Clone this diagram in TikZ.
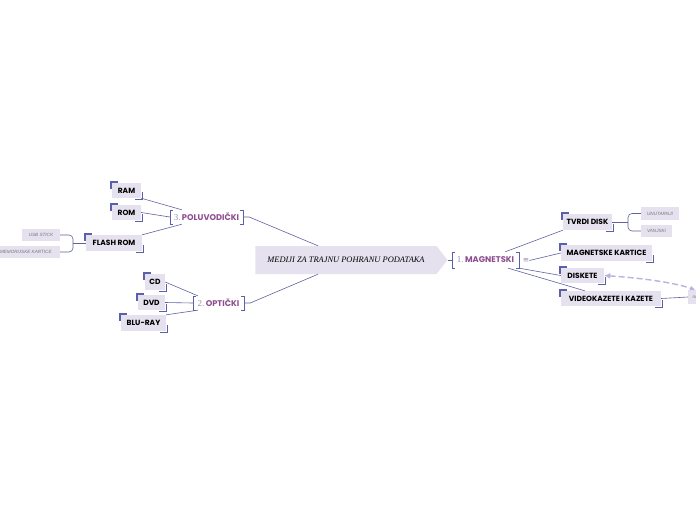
\documentclass[tikz,border=0pt]{standalone}
\usepackage{fontspec}
\setmainfont{Liberation Serif}
\newfontfamily\boxfont{Poppins}
\newfontfamily\smallfont{Liberation Sans}
\newfontfamily\symfont{DejaVu Sans}
\usetikzlibrary{shapes.symbols,arrows.meta}

\definecolor{boxfill}{HTML}{E5E1EE}
\definecolor{cornerblue}{HTML}{5C60A8}
\definecolor{linkc}{HTML}{6062A0}
\definecolor{catpurple}{HTML}{8E4D90}
\definecolor{numgrey}{HTML}{9A8CB4}
\definecolor{dashc}{HTML}{B9B4DE}
\definecolor{smallgrey}{HTML}{777777}

\tikzset{
  leaf/.style={fill=boxfill, inner sep=0pt, text=black,
    font=\boxfont\bfseries\fontsize{7.5}{8}\selectfont},
  sub/.style={fill=boxfill, inner sep=0pt, text=smallgrey,
    font=\smallfont\itshape\fontsize{4.6}{5}\selectfont},
  cat/.style={inner sep=0pt, text=catpurple,
    font=\boxfont\bfseries\fontsize{8.3}{9}\selectfont},
  rootbox/.style={shape=signal, signal to=east, signal pointer angle=104,
    fill=boxfill, inner sep=0pt, font=\itshape\fontsize{8.4}{9}\selectfont},
  link/.style={draw=linkc, line width=0.6pt},
  corner/.style={draw=cornerblue, line width=1.4pt},
  brk/.style={draw=cornerblue, line width=0.6pt},
  dlink/.style={draw=dashc, line width=1.4pt, dash pattern=on 6pt off 3pt,
    {Latex[length=6pt,width=6pt]}-{Latex[length=5pt,width=5pt]}}
}

\newcommand{\num}[1]{{\rmfamily\mdseries\fontsize{9}{9}\selectfont\color{numgrey}#1}}

\begin{document}
\begin{tikzpicture}[x=1pt,y=-1pt]
\clip (0,0) rectangle (696,520);
\fill[white] (0,0) rectangle (696,520);

% centre
\node[rootbox, minimum width=192pt, minimum height=28pt] (root) at (346,260) {MEDIJI ZA TRAJNU POHRANU PODATAKA\hspace{8pt}};

% 1. magnetski
\node[cat, minimum width=67pt, minimum height=16pt] (magn) at (485.5,260) {\num{1.}\,MAGNETSKI};
\node[inner sep=0pt, text=numgrey, font=\symfont\fontsize{7.5}{8}\selectfont] (menu) at (526,260.5) {≡};
\node[leaf, minimum width=49pt, minimum height=16pt] (tvrdi) at (587.5,222) {TVRDI DISK};
\node[leaf, minimum width=91pt, minimum height=16pt] (mkart) at (606.5,253) {MAGNETSKE KARTICE};
\node[leaf, minimum width=43pt, minimum height=15pt] (disk) at (582.5,275.5) {DISKETE};
\node[leaf, minimum width=100pt, minimum height=15pt] (video) at (611,298.5) {VIDEOKAZETE I KAZETE};
\node[sub, minimum width=38pt, minimum height=13pt] (unut) at (660,213.5) {UNUTARNJI};
\node[sub, minimum width=31pt, minimum height=12pt] (vanj) at (656.5,231) {VANJSKI};
\node[sub, minimum width=14pt, minimum height=14pt, anchor=west] (na) at (688,297) {na};

% 3. poluvodicki
\node[cat, minimum width=73pt, minimum height=14pt] (pol) at (206.5,217) {\num{3.}\,POLUVODIČKI};
\node[leaf, minimum width=29pt, minimum height=15pt] (ram) at (126.5,190.5) {RAM};
\node[leaf, minimum width=29pt, minimum height=15pt] (rom) at (126.5,212.5) {ROM};
\node[leaf, minimum width=56pt, minimum height=16pt] (flash) at (114,243) {FLASH ROM};
\node[sub, minimum width=38pt, minimum height=12pt] (usb) at (41,235) {USB STICK};
\node[sub, minimum width=68pt, minimum height=12pt, anchor=east] (mem) at (60,252) {MEMORIJSKE KARTICE};

% 2. opticki
\node[cat, minimum width=51pt, minimum height=14pt] (opt) at (218.5,303) {\num{2.}\,OPTIČKI};
\node[leaf, minimum width=20pt, minimum height=16pt] (cd) at (155,282) {CD};
\node[leaf, minimum width=27pt, minimum height=15pt] (dvd) at (151.5,302.5) {DVD};
\node[leaf, minimum width=45pt, minimum height=16pt] (bluray) at (143.5,323) {BLU-RAY};

% corners of the boxes
\foreach \n in {tvrdi,mkart,disk,video,ram,rom,flash,cd,dvd,bluray} {
  \draw[corner] ([shift={(-1,6)}]\n.north west) -- ([shift={(-1,-1)}]\n.north west) -- ([shift={(6,-1)}]\n.north west);
  \draw[corner] ([shift={(-6,1)}]\n.south east) -- ([shift={(1,1)}]\n.south east) -- ([shift={(1,-6)}]\n.south east);
}
% brackets of the main branches
\foreach \n in {magn,pol,opt} {
  \draw[brk] ([xshift=3pt]\n.north west) -- (\n.north west) -- (\n.south west) -- ([xshift=3pt]\n.south west);
  \draw[brk] ([xshift=-3pt]\n.north east) -- (\n.north east) -- (\n.south east) -- ([xshift=-3pt]\n.south east);
}

\coordinate (tj) at (628,222);
\coordinate (fj) at (73,243);

\draw[link] (root.east) -- (magn.west);
\draw[link] (pol.east) -- ++(6,0) -- ([xshift=-28pt]root.north);
\draw[link] (opt.east) -- ++(6,0) -- ([xshift=-28pt]root.south);

\draw[link] ([xshift=-14pt]magn.north east) -- (tvrdi.south west);
\draw[link] (menu.east) -- (mkart.west);
\draw[link] (magn.south east) -- (disk.west);
\draw[link] ([xshift=-11pt]magn.south east) -- ([xshift=24pt]video.north west);
\draw[link] (tvrdi.east) -- (tj);
\draw[link, rounded corners=4pt] (unut.west) -| (tj) |- (vanj.west);
\draw[link] (video.east) -- (na.west);
\draw[dlink] (disk.east) .. controls (640,278) and (672,282) .. (na.north);

\draw[link] (ram.south east) -- ([xshift=12pt]pol.north west);
\draw[link] (rom.east) -- (pol.west);
\draw[link] (flash.north east) -- ([xshift=12pt]pol.south west);
\draw[link] (flash.west) -- (fj);
\draw[link, rounded corners=4pt] (usb.east) -| (fj) |- (mem.east);

\draw[link] (cd.east) -- ([xshift=5pt]opt.north west);
\draw[link] (dvd.east) -- (opt.west);
\draw[link] (bluray.north east) -- ([xshift=5pt]opt.south west);
\end{tikzpicture}
\end{document}
